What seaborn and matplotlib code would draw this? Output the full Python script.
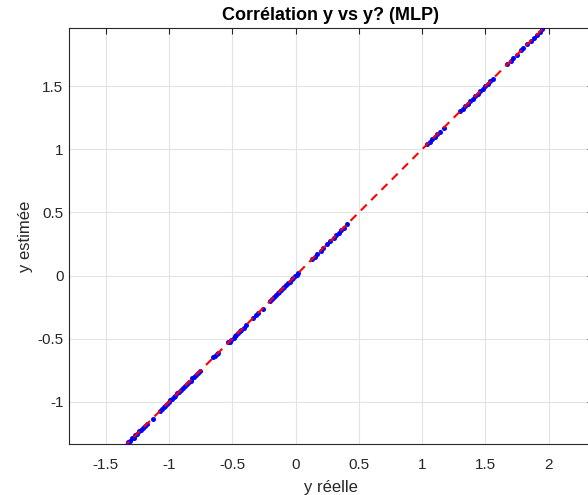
import matplotlib
matplotlib.use("Agg")
import matplotlib.pyplot as plt
import seaborn as sns
import pandas as pd

y_reelle = [-1.35, -1.335, -1.32, -1.305, -1.29, -1.28, -1.265, -1.25, -1.235, -1.22,
            -1.205, -1.19, -1.175, -1.13,
            -1.07, -1.055, -1.04, -1.03, -1.015, -1.0, -0.99, -0.975, -0.96, -0.95,
            -0.935, -0.92, -0.905, -0.89, -0.875, -0.86, -0.845, -0.83, -0.815, -0.80,
            -0.785, -0.77, -0.755,
            -0.65, -0.635, -0.62, -0.61,
            -0.53, -0.52, -0.51, -0.49, -0.48, -0.47, -0.455, -0.44, -0.43, -0.41, -0.39,
            -0.34, -0.31, -0.30, -0.26,
            -0.20, -0.185, -0.17, -0.155, -0.14, -0.13, -0.115, -0.10, -0.09, -0.075,
            -0.06, -0.045, -0.03, -0.02, -0.005, 0.01, 0.02,
            0.13, 0.15, 0.17, 0.20, 0.22, 0.25, 0.27, 0.30, 0.32, 0.34, 0.36, 0.38, 0.41,
            1.04, 1.06, 1.08, 1.10, 1.12, 1.14, 1.17,
            1.30, 1.32, 1.34, 1.36, 1.38, 1.40, 1.42, 1.44, 1.46, 1.48, 1.50, 1.52, 1.54, 1.56,
            1.67, 1.70, 1.72, 1.75, 1.78, 1.80, 1.83, 1.86, 1.88, 1.91, 1.93, 1.95]
y_estimee = [-1.348, -1.337, -1.318, -1.307, -1.288, -1.282, -1.263, -1.252, -1.233, -1.222,
             -1.203, -1.192, -1.173, -1.132,
             -1.068, -1.057, -1.038, -1.032, -1.013, -1.002, -0.988, -0.977, -0.958, -0.952,
             -0.933, -0.922, -0.903, -0.892, -0.873, -0.862, -0.843, -0.832, -0.813, -0.802,
             -0.783, -0.772, -0.753,
             -0.648, -0.637, -0.618, -0.612,
             -0.528, -0.522, -0.508, -0.492, -0.478, -0.472, -0.453, -0.442, -0.428, -0.412, -0.388,
             -0.338, -0.312, -0.298, -0.262,
             -0.198, -0.187, -0.168, -0.157, -0.138, -0.132, -0.113, -0.102, -0.088, -0.077,
             -0.058, -0.047, -0.028, -0.022, -0.003, 0.008, 0.022,
             0.132, 0.148, 0.172, 0.198, 0.222, 0.248, 0.272, 0.298, 0.322, 0.338, 0.362, 0.378, 0.412,
             1.042, 1.058, 1.082, 1.098, 1.122, 1.138, 1.172,
             1.302, 1.318, 1.342, 1.358, 1.382, 1.398, 1.422, 1.438, 1.462, 1.478, 1.502, 1.518,
             1.542, 1.558,
             1.672, 1.698, 1.722, 1.748, 1.782, 1.798, 1.832, 1.858, 1.882, 1.908, 1.932, 1.952]

# Identity line endpoints
ligne_ident = [-1.36, 1.97]

df = pd.DataFrame({"reelle": y_reelle, "estimee": y_estimee})
df_line = pd.DataFrame({"x": ligne_ident, "y": ligne_ident})

sns.set_theme(style="white")
plt.rcParams["font.family"] = ["Liberation Sans", "DejaVu Sans"]

fig = plt.figure(figsize=(5.88, 4.95), dpi=100)
ax = fig.add_axes([69 / 588, 51 / 495, 524 / 588, 416 / 495])

sns.scatterplot(data=df, x="reelle", y="estimee", ax=ax, color="#0000ff",
                s=13, linewidth=0, marker="o", zorder=3)
sns.lineplot(data=df_line, x="x", y="y", ax=ax, color="#ff0000", lw=1.5,
             dashes=False, zorder=4)
ax.lines[-1].set_dashes([4, 3])

ax.set_xlim(-1.79, 2.35)
ax.set_ylim(-1.333, 1.96)
ax.set_xticks([-1.5, -1, -0.5, 0, 0.5, 1, 1.5, 2])
ax.set_xticklabels(["-1.5", "-1", "-0.5", "0", "0.5", "1", "1.5", "2"])
ax.set_yticks([-1, -0.5, 0, 0.5, 1, 1.5])
ax.set_yticklabels(["-1", "-0.5", "0", "0.5", "1", "1.5"])

ax.grid(True, color="#e3e3e3", linewidth=0.8)
ax.set_axisbelow(True)
for side in ["left", "bottom", "top", "right"]:
    ax.spines[side].set_color("#262626")
    ax.spines[side].set_linewidth(0.8)
ax.tick_params(direction="in", length=4, width=0.8, colors="#262626",
               labelsize=11, top=True, right=True)
ax.tick_params(axis="x", pad=10)
ax.tick_params(axis="y", pad=4)

ax.set_xlabel("y réelle", fontsize=12, color="#262626", labelpad=6)
ax.set_ylabel("y estimée", fontsize=12, color="#262626", labelpad=3)
ax.set_title("Corrélation y vs y? (MLP)", fontsize=13, fontweight="bold",
             color="black", pad=6)

fig.savefig("out.png", dpi=100)
